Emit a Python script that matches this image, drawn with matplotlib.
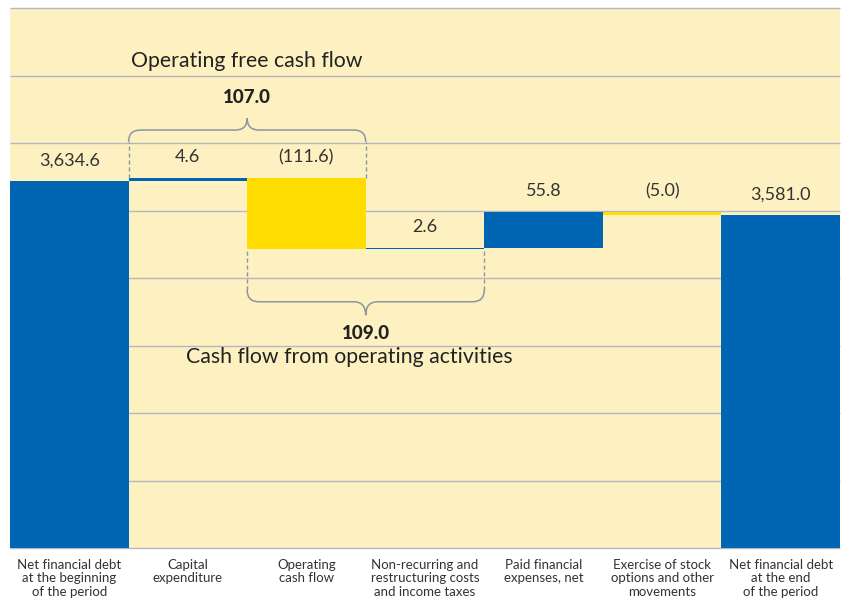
import numpy as np
import matplotlib.pyplot as plt
from matplotlib.path import Path
from matplotlib.patches import PathPatch
from matplotlib.ticker import NullLocator
import matplotlib.transforms as mtransforms

categories = [
    "Net financial debt\nat the beginning\nof the period",
    "Capital\nexpenditure",
    "Operating\ncash flow",
    "Non-recurring and\nrestructuring costs\nand income taxes",
    "Paid financial\nexpenses, net",
    "Exercise of stock\noptions and other\nmovements",
    "Net financial debt\nat the end\nof the period",
]
values = [3634.6, 4.6, -111.6, 2.6, 55.8, -5.0, 3581.0]
is_total = [True, False, False, False, False, False, True]

BLUE = "#0066b3"
YELLOW = "#ffdd00"
BG = "#fef1c1"
GRID = "#b4b8bc"
TEXT = "#333333"

# broken value axis: 0..BREAK squeezed into the lower part
BREAK = 3500.0
LOW_SPAN = 440.0
YMAX = 3905.0


def fwd(v):
    v = np.asarray(v, dtype=float)
    return np.where(v < BREAK, v * LOW_SPAN / BREAK, LOW_SPAN + (v - BREAK))


def inv(h):
    h = np.asarray(h, dtype=float)
    return np.where(h < LOW_SPAN, h * BREAK / LOW_SPAN, BREAK + (h - LOW_SPAN))


def frac_to_val(fr):
    return float(inv(fr * fwd(YMAX)))


def fmt(v):
    s = f"{abs(v):,.1f}"
    return f"({s})" if v < 0 else s


def brace(ax, x0, x1, y_end, y_mid, y_tip, d=0.1):
    xm = (x0 + x1) / 2
    verts = [(x0, y_end), (x0, y_mid), (x0 + d, y_mid),
             (xm - d, y_mid), (xm, y_mid), (xm, y_tip),
             (xm, y_mid), (xm + d, y_mid),
             (x1 - d, y_mid), (x1, y_mid), (x1, y_end)]
    codes = [Path.MOVETO, Path.CURVE3, Path.CURVE3,
             Path.LINETO, Path.CURVE3, Path.CURVE3,
             Path.CURVE3, Path.CURVE3,
             Path.LINETO, Path.CURVE3, Path.CURVE3]
    trans = mtransforms.blended_transform_factory(ax.transData, ax.transAxes)
    ax.add_patch(PathPatch(Path(verts, codes), facecolor="none", edgecolor="#8a96a3",
                           lw=1.1, transform=trans, clip_on=False))


plt.rcParams["font.family"] = ["Lato", "DejaVu Sans"]

fig = plt.figure(figsize=(8.45, 6.04), dpi=100)
ax = fig.add_axes([10 / 845, 56 / 604, 830 / 845, 540 / 604])
ax.set_facecolor(BG)
ax.set_yscale("function", functions=(fwd, inv))
ax.set_xlim(-0.5, len(values) - 0.5)
ax.set_ylim(0, YMAX)
for s in ax.spines.values():
    s.set_visible(False)
ax.yaxis.set_major_locator(NullLocator())
ax.yaxis.set_minor_locator(NullLocator())
ax.xaxis.set_major_locator(NullLocator())
ax.xaxis.set_minor_locator(NullLocator())
ax.tick_params(which="both", left=False, right=False, bottom=False, top=False)

blend = mtransforms.blended_transform_factory(ax.transData, ax.transAxes)

for fr in np.linspace(0, 1, 9):
    ax.plot([0, 1], [fr, fr], transform=ax.transAxes, color=GRID, lw=1.0, zorder=1,
            clip_on=False, solid_capstyle="butt")

# waterfall
level = 0.0
tops = []
bottoms = []
for i, v in enumerate(values):
    if is_total[i]:
        bottom, height = 0.0, v
        color = BLUE
        level = v
    else:
        bottom = min(level, level + v)
        height = abs(v)
        color = BLUE if v > 0 else YELLOW
        level = level + v
    ax.bar(i, height, bottom=bottom, width=1.0, color=color, zorder=3)
    tops.append(bottom + height)
    bottoms.append(bottom)
    ax.annotate(fmt(v), (i, bottom + height), xytext=(0, 9), textcoords="offset points",
                ha="center", va="bottom", fontsize=13, color=TEXT, zorder=4)

# upper brace: operating free cash flow (capex + operating cash flow)
top_end, top_mid, top_tip = 0.752, 0.774, 0.796
brace(ax, 0.5, 2.5, top_end, top_mid, top_tip)
ax.vlines([0.5, 2.5], [tops[1], tops[2]], frac_to_val(top_end), colors="#8a96a3",
          linestyles=(0, (3, 2)), lw=1.0, zorder=4)
ofcf = -(values[1] + values[2])
ax.text(1.5, 0.835, fmt(ofcf), transform=blend,
        ha="center", va="center", fontsize=13.5, fontweight="black", color="#222222")
ax.text(1.5, 0.902, "Operating free cash flow", transform=blend,
        ha="center", va="center", fontsize=15.3, color="#222222")

# lower brace: cash flow from operating activities
low_end, low_mid, low_tip = 0.478, 0.456, 0.431
brace(ax, 1.5, 3.5, low_end, low_mid, low_tip)
ax.vlines([1.5, 3.5], frac_to_val(low_end), [bottoms[2], bottoms[3]], colors="#8a96a3",
          linestyles=(0, (3, 2)), lw=1.0, zorder=4)
cfo = -(values[2] + values[3])
ax.text(2.5, 0.398, fmt(cfo), transform=blend,
        ha="center", va="center", fontsize=13.5, fontweight="black", color="#222222")
ax.text(2.36, 0.354, "Cash flow from operating activities", transform=blend,
        ha="center", va="center", fontsize=15.3, color="#222222")

# category labels
for i, c in enumerate(categories):
    ax.text(i, -0.02, c, transform=blend,
            ha="center", va="top", fontsize=9.5, color=TEXT, linespacing=1.15)

fig.savefig("out.png", dpi=100)
